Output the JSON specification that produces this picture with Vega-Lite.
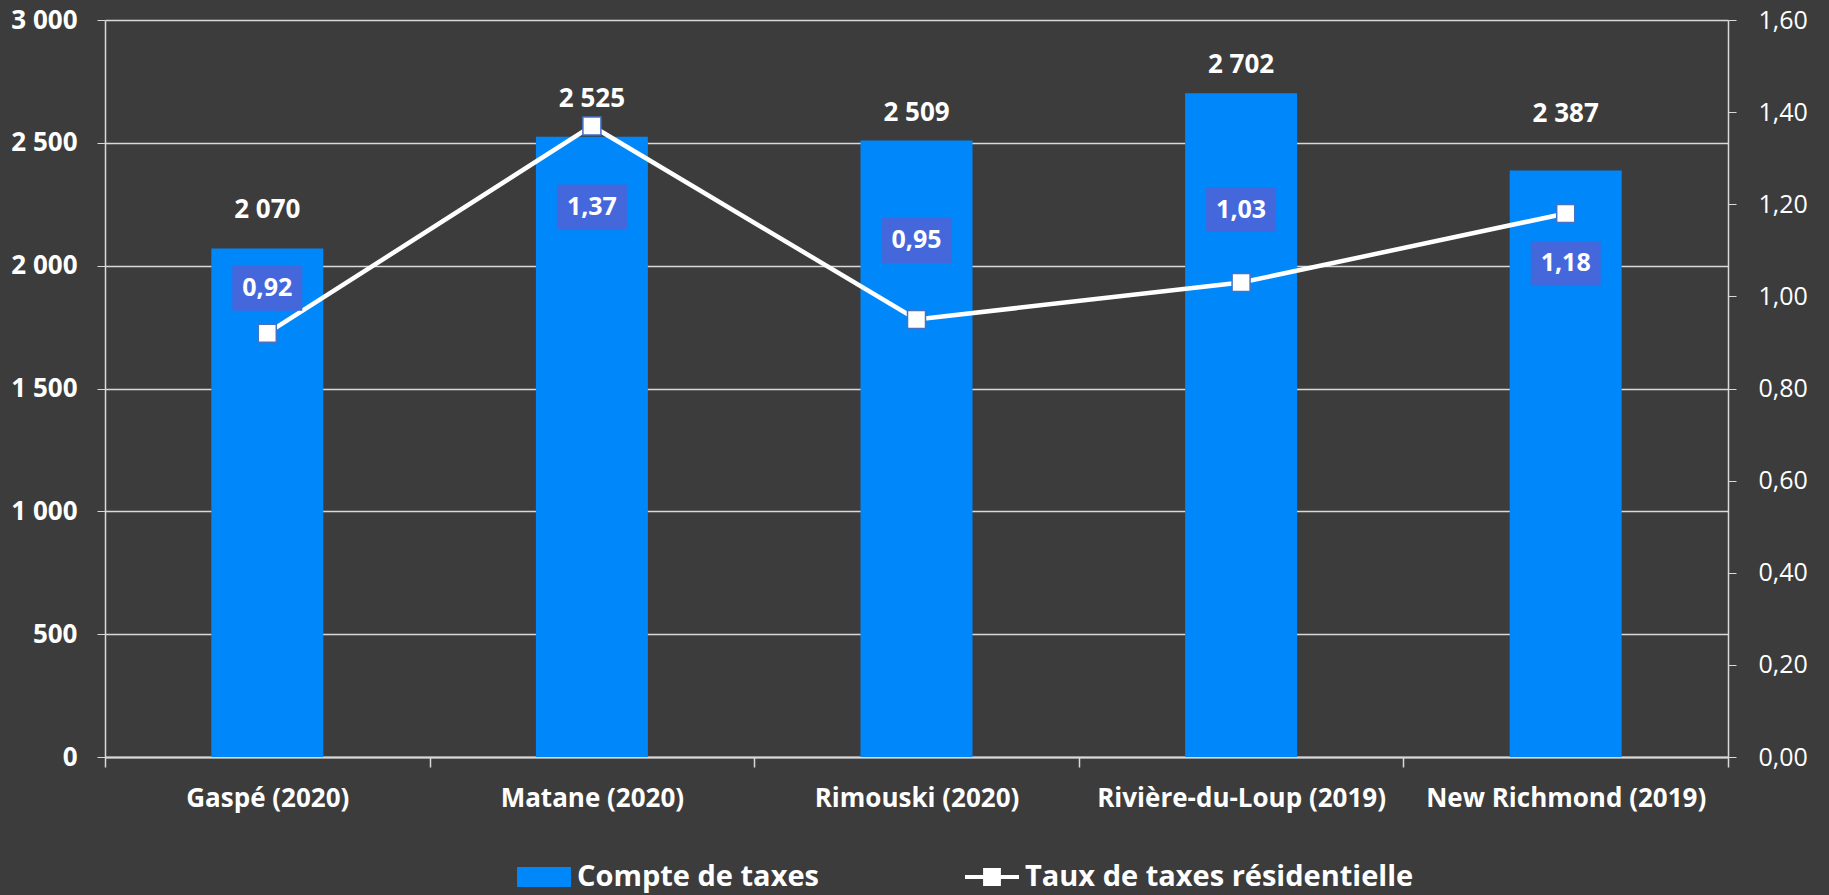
{
  "$schema": "https://vega.github.io/schema/vega-lite/v6.json",
  "width": 1623,
  "height": 737,
  "autosize": {"type": "none"},
  "padding": {"left": 105, "top": 20, "right": 101, "bottom": 138},
  "background": "#3C3C3C",
  "config": {
    "view": {"stroke": null},
    "font": "Open Sans",
    "locale": {"number": {"decimal": ",", "thousands": " ", "grouping": [3], "currency": ["", " $"]}},
    "axis": {"labelColor": "#FFFFFF", "labelFont": "Open Sans", "domainColor": "#D9D9D9", "tickColor": "#D9D9D9", "gridColor": "#D9D9D9", "title": null, "labelLimit": 0}
  },
  "data": {"values": [
    {"ville": "Gaspé (2020)", "compte": 2070, "taux": 0.92},
    {"ville": "Matane (2020)", "compte": 2525, "taux": 1.37},
    {"ville": "Rimouski (2020)", "compte": 2509, "taux": 0.95},
    {"ville": "Rivière-du-Loup (2019)", "compte": 2702, "taux": 1.03},
    {"ville": "New Richmond (2019)", "compte": 2387, "taux": 1.18}
  ]},
  "encoding": {
    "x": {"field": "ville", "type": "nominal", "sort": null,
      "scale": {"paddingInner": 0, "paddingOuter": 0},
      "axis": {"labelAngle": 0, "labelFontSize": 26, "labelFontWeight": "bold", "tickSize": 10, "tickBand": "extent", "labelPadding": 18, "domainWidth": 2, "tickWidth": 1.5, "labelLimit": 0}}
  },
  "layer": [
    {
      "layer": [
        {
          "mark": {"type": "bar", "width": {"band": 0.345}, "color": "#0088FA"},
          "encoding": {
            "y": {"field": "compte", "type": "quantitative", "scale": {"domain": [0, 3000]},
              "axis": {"values": [0, 500, 1000, 1500, 2000, 2500, 3000], "format": ",d", "labelFontSize": 26, "labelFontWeight": "bold", "tickSize": 8, "labelPadding": 20, "grid": true, "gridWidth": 1.5, "domainWidth": 1.5}},
            "color": {"datum": "Compte de taxes", "type": "nominal",
              "scale": {"domain": ["Compte de taxes", "Taux de taxes résidentielle"], "range": ["#0088FA", "#FFFFFF"]},
              "legend": {"orient": "none", "legendX": 412, "legendY": 830, "direction": "horizontal", "title": null, "labelFontSize": 29, "labelFontWeight": "bold", "labelColor": "#FFFFFF", "labelFont": "Open Sans", "labelLimit": 0, "symbolSize": 2916, "columnPadding": 146, "labelOffset": 6,
                "encode": {"symbols": {"update": {
                  "shape": {"signal": "datum.value === 'Compte de taxes' ? 'M-1,-0.37L1,-0.37L1,0.37L-1,0.37Z' : 'M-1,-0.075L1,-0.075L1,0.075L-1,0.075Z M-0.33,-0.33L0.33,-0.33L0.33,0.33L-0.33,0.33Z'"},
                  "fill": {"signal": "datum.value === 'Compte de taxes' ? '#0088FA' : '#FFFFFF'"},
                  "stroke": {"value": "transparent"},
                  "strokeWidth": {"value": 0},
                  "opacity": {"value": 1}
                }}}}}
          }
        },
        {
          "transform": [{"filter": "datum.ville === 'Gaspé (2020)' || datum.ville === 'Matane (2020)'"}],
          "mark": {"type": "text", "dy": -38, "fontSize": 26, "fontWeight": "bold", "color": "#FFFFFF", "baseline": "middle"},
          "encoding": {"y": {"field": "compte", "type": "quantitative"}, "text": {"field": "compte", "type": "quantitative", "format": ",d"}}
        },
        {
          "transform": [{"filter": "datum.ville === 'Rimouski (2020)' || datum.ville === 'Rivière-du-Loup (2019)'"}],
          "mark": {"type": "text", "dy": -28, "fontSize": 26, "fontWeight": "bold", "color": "#FFFFFF", "baseline": "middle"},
          "encoding": {"y": {"field": "compte", "type": "quantitative"}, "text": {"field": "compte", "type": "quantitative", "format": ",d"}}
        },
        {
          "transform": [{"filter": "datum.ville === 'New Richmond (2019)'"}],
          "mark": {"type": "text", "dy": -57, "fontSize": 26, "fontWeight": "bold", "color": "#FFFFFF", "baseline": "middle"},
          "encoding": {"y": {"field": "compte", "type": "quantitative"}, "text": {"field": "compte", "type": "quantitative", "format": ",d"}}
        }
      ]
    },
    {
      "encoding": {
        "y": {"field": "taux", "type": "quantitative", "scale": {"domain": [0, 1.6]},
          "axis": {"orient": "right", "values": [0, 0.2, 0.4, 0.6, 0.8, 1.0, 1.2, 1.4, 1.6], "format": ".2f", "labelFontSize": 25, "labelFontWeight": "normal", "tickSize": 8, "labelPadding": 22, "grid": false, "domainWidth": 1.5}}
      },
      "layer": [
        {"mark": {"type": "line", "strokeWidth": 4.5}, "encoding": {"color": {"datum": "Taux de taxes résidentielle", "type": "nominal"}}},
        {"mark": {"type": "point", "shape": "square", "size": 324, "filled": true, "fill": "#FFFFFF", "stroke": "#4472C4", "strokeWidth": 1.5, "opacity": 1}},
        {"transform": [{"filter": "datum.ville === 'Gaspé (2020)'"}], "layer": [
          {"mark": {"type": "point", "shape": "M-1,-0.643L1,-0.643L1,0.643L-1,0.643Z", "size": 4900, "filled": true, "fill": "#4468DC", "strokeWidth": 0, "opacity": 1, "yOffset": -45}},
          {"mark": {"type": "text", "dy": -45, "fontSize": 25, "fontWeight": "bold", "color": "#FFFFFF", "baseline": "middle"}, "encoding": {"text": {"field": "taux", "type": "quantitative", "format": ".2f"}}}
        ]},
        {"transform": [{"filter": "datum.ville === 'Matane (2020)'"}], "layer": [
          {"mark": {"type": "point", "shape": "M-1,-0.643L1,-0.643L1,0.643L-1,0.643Z", "size": 4900, "filled": true, "fill": "#4468DC", "strokeWidth": 0, "opacity": 1, "yOffset": 81}},
          {"mark": {"type": "text", "dy": 81, "fontSize": 25, "fontWeight": "bold", "color": "#FFFFFF", "baseline": "middle"}, "encoding": {"text": {"field": "taux", "type": "quantitative", "format": ".2f"}}}
        ]},
        {"transform": [{"filter": "datum.ville === 'Rimouski (2020)'"}], "layer": [
          {"mark": {"type": "point", "shape": "M-1,-0.643L1,-0.643L1,0.643L-1,0.643Z", "size": 4900, "filled": true, "fill": "#4468DC", "strokeWidth": 0, "opacity": 1, "yOffset": -79}},
          {"mark": {"type": "text", "dy": -79, "fontSize": 25, "fontWeight": "bold", "color": "#FFFFFF", "baseline": "middle"}, "encoding": {"text": {"field": "taux", "type": "quantitative", "format": ".2f"}}}
        ]},
        {"transform": [{"filter": "datum.ville === 'Rivière-du-Loup (2019)'"}], "layer": [
          {"mark": {"type": "point", "shape": "M-1,-0.643L1,-0.643L1,0.643L-1,0.643Z", "size": 4900, "filled": true, "fill": "#4468DC", "strokeWidth": 0, "opacity": 1, "yOffset": -73}},
          {"mark": {"type": "text", "dy": -73, "fontSize": 25, "fontWeight": "bold", "color": "#FFFFFF", "baseline": "middle"}, "encoding": {"text": {"field": "taux", "type": "quantitative", "format": ".2f"}}}
        ]},
        {"transform": [{"filter": "datum.ville === 'New Richmond (2019)'"}], "layer": [
          {"mark": {"type": "point", "shape": "M-1,-0.643L1,-0.643L1,0.643L-1,0.643Z", "size": 4900, "filled": true, "fill": "#4468DC", "strokeWidth": 0, "opacity": 1, "yOffset": 50}},
          {"mark": {"type": "text", "dy": 50, "fontSize": 25, "fontWeight": "bold", "color": "#FFFFFF", "baseline": "middle"}, "encoding": {"text": {"field": "taux", "type": "quantitative", "format": ".2f"}}}
        ]}
      ]
    }
  ],
  "resolve": {"scale": {"y": "independent"}}
}
